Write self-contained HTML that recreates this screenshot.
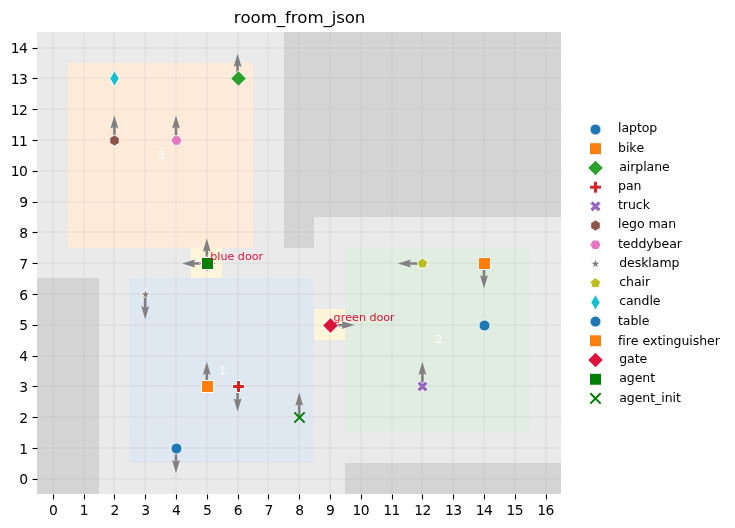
<!DOCTYPE html>
<html lang="en"><head><meta charset="utf-8"><title>room_from_json</title>
<style>html,body{margin:0;padding:0;background:#fff}body{width:735px;height:528px;overflow:hidden}svg{display:block;will-change:transform}text{font-family:"DejaVu Sans","Liberation Sans",sans-serif;fill:#000;font-variant-ligatures:none;font-kerning:none}.tk{font-size:13.89px}.lg{font-size:12.5px;letter-spacing:-0.05px}.ttl{font-size:16.67px;letter-spacing:-0.14px}.dr{font-size:11.11px;fill:#dc143c}.rm{font-size:11.11px;fill:#fff;fill-opacity:.88}</style></head><body>
<svg width="735" height="528" viewBox="0 0 735 528">
<rect width="735" height="528" fill="#fff"/>
<g id="patches" shape-rendering="crispEdges">
<rect x="37" y="32" width="524" height="462" fill="#eaeaea"/>
<rect x="37" y="278" width="62" height="216" fill="#d4d4d4"/>
<rect x="284" y="32" width="277" height="185" fill="#d4d4d4"/>
<rect x="284" y="217" width="30" height="31" fill="#d4d4d4"/>
<rect x="345" y="463" width="216" height="31" fill="#d4d4d4"/>
<rect x="129" y="278" width="185" height="185" fill="#dfe7f0"/>
<rect x="345" y="248" width="185" height="184" fill="#e0ede0"/>
<rect x="68" y="63" width="185" height="185" fill="#fdebd9"/>
<rect x="191" y="248" width="31" height="30" fill="#fff5da"/>
<rect x="314" y="309" width="31" height="31" fill="#fff5da"/>
</g>
<g id="grid" stroke="rgba(176,176,176,0.11)" stroke-width="2" shape-rendering="crispEdges">
<line x1="53" y1="32" x2="53" y2="494"/>
<line x1="84" y1="32" x2="84" y2="494"/>
<line x1="114" y1="32" x2="114" y2="494"/>
<line x1="145" y1="32" x2="145" y2="494"/>
<line x1="176" y1="32" x2="176" y2="494"/>
<line x1="207" y1="32" x2="207" y2="494"/>
<line x1="238" y1="32" x2="238" y2="494"/>
<line x1="268" y1="32" x2="268" y2="494"/>
<line x1="299" y1="32" x2="299" y2="494"/>
<line x1="330" y1="32" x2="330" y2="494"/>
<line x1="361" y1="32" x2="361" y2="494"/>
<line x1="392" y1="32" x2="392" y2="494"/>
<line x1="422" y1="32" x2="422" y2="494"/>
<line x1="453" y1="32" x2="453" y2="494"/>
<line x1="484" y1="32" x2="484" y2="494"/>
<line x1="515" y1="32" x2="515" y2="494"/>
<line x1="546" y1="32" x2="546" y2="494"/>
<line x1="37" y1="479" x2="561" y2="479"/>
<line x1="37" y1="448" x2="561" y2="448"/>
<line x1="37" y1="417" x2="561" y2="417"/>
<line x1="37" y1="386" x2="561" y2="386"/>
<line x1="37" y1="356" x2="561" y2="356"/>
<line x1="37" y1="325" x2="561" y2="325"/>
<line x1="37" y1="294" x2="561" y2="294"/>
<line x1="37" y1="263" x2="561" y2="263"/>
<line x1="37" y1="232" x2="561" y2="232"/>
<line x1="37" y1="202" x2="561" y2="202"/>
<line x1="37" y1="171" x2="561" y2="171"/>
<line x1="37" y1="140" x2="561" y2="140"/>
<line x1="37" y1="109" x2="561" y2="109"/>
<line x1="37" y1="78" x2="561" y2="78"/>
<line x1="37" y1="48" x2="561" y2="48"/>
</g>
<g id="roomlabels" text-anchor="middle">
<text class="rm" x="222.5" y="374.3">1</text>
<text class="rm" x="438.7" y="342.5">2</text>
<text class="rm" x="161.5" y="158.7">3</text>
</g>
<g id="arrows">
<polygon points="177.31,448.3 177.31,461.41 179.93,460.1 176,473.2 172.07,460.1 174.69,461.41 174.69,448.3" fill="#808080"/>
<polygon points="208.11,386.7 208.11,373.59 210.73,374.9 206.8,361.8 202.87,374.9 205.49,373.59 205.49,386.7" fill="#808080"/>
<polygon points="238.91,78.7 238.91,65.59 241.53,66.9 237.6,53.8 233.67,66.9 236.29,65.59 236.29,78.7" fill="#808080"/>
<polygon points="238.91,386.7 238.91,399.81 241.53,398.5 237.6,411.6 233.67,398.5 236.29,399.81 236.29,386.7" fill="#808080"/>
<polygon points="423.71,386.7 423.71,373.59 426.33,374.9 422.4,361.8 418.47,374.9 421.09,373.59 421.09,386.7" fill="#808080"/>
<polygon points="115.71,140.3 115.71,127.19 118.33,128.5 114.4,115.4 110.47,128.5 113.09,127.19 113.09,140.3" fill="#808080"/>
<polygon points="177.31,140.3 177.31,127.19 179.93,128.5 176,115.4 172.07,128.5 174.69,127.19 174.69,140.3" fill="#808080"/>
<polygon points="146.51,294.3 146.51,307.41 149.13,306.1 145.2,319.2 141.27,306.1 143.89,307.41 143.89,294.3" fill="#808080"/>
<polygon points="422.4,264.81 409.59,264.81 410.9,267.43 397.8,263.5 410.9,259.57 409.59,262.19 422.4,262.19" fill="#808080"/>
<polygon points="485.31,263.5 485.31,276.61 487.93,275.3 484,288.4 480.07,275.3 482.69,276.61 482.69,263.5" fill="#808080"/>
<polygon points="208.11,263.5 208.11,250.39 210.73,251.7 206.8,238.6 202.87,251.7 205.49,250.39 205.49,263.5" fill="#808080"/>
<polygon points="330,326.41 342.81,326.41 341.5,329.03 354.6,325.1 341.5,321.17 342.81,323.79 330,323.79" fill="#808080"/>
<polygon points="206.8,264.81 193.99,264.81 195.3,267.43 182.2,263.5 195.3,259.57 193.99,262.19 206.8,262.19" fill="#808080"/>
<polygon points="300.51,417.5 300.51,404.39 303.13,405.7 299.2,392.6 295.27,405.7 297.89,404.39 297.89,417.5" fill="#808080"/>
</g>
<g id="markers">
<circle cx="176.5" cy="448.5" r="5.5" fill="#1f77b4" stroke="#fff" stroke-width="0.92"/>
<polygon points="201.5,392.5 213.5,392.5 213.5,380.5 201.5,380.5" fill="#ff7f0e" stroke="#fff" stroke-width="1.0" stroke-linejoin="miter"/>
<polygon points="238.5,86.28 246.28,78.5 238.5,70.72 230.72,78.5" fill="#2ca02c" stroke="#fff" stroke-width="0.92" stroke-linejoin="round"/>
<polygon points="236.5,392.5 240.5,392.5 240.5,388.5 244.5,388.5 244.5,384.5 240.5,384.5 240.5,380.5 236.5,380.5 236.5,384.5 232.5,384.5 232.5,388.5 236.5,388.5" fill="#d62728" stroke="#fff" stroke-width="1.0" stroke-linejoin="miter"/>
<polygon points="419.75,392 422.5,389.25 425.25,392 428,389.25 425.25,386.5 428,383.75 425.25,381 422.5,383.75 419.75,381 417,383.75 419.75,386.5 417,389.25" fill="#9467bd" stroke="#fff" stroke-width="0.92" stroke-linejoin="round"/>
<polygon points="114.5,135 109.74,137.75 109.74,143.25 114.5,146 119.26,143.25 119.26,137.75" fill="#8c564b" stroke="#fff" stroke-width="0.92" stroke-linejoin="round"/>
<polygon points="173.75,135.74 171,140.5 173.75,145.26 179.25,145.26 182,140.5 179.25,135.74" fill="#e377c2" stroke="#fff" stroke-width="0.92" stroke-linejoin="round"/>
<polygon points="145.5,289 144.26,292.8 140.27,292.8 143.5,295.15 142.27,298.95 145.5,296.6 148.73,298.95 147.5,295.15 150.73,292.8 146.74,292.8" fill="#7f7f7f" stroke="#fff" stroke-width="0.92" stroke-linejoin="round"/>
<polygon points="422.5,258 417.27,261.8 419.27,267.95 425.73,267.95 427.73,261.8" fill="#bcbd22" stroke="#fff" stroke-width="0.92" stroke-linejoin="round"/>
<polygon points="114.5,86.28 119.17,78.5 114.5,70.72 109.83,78.5" fill="#17becf" stroke="#fff" stroke-width="0.92" stroke-linejoin="round"/>
<circle cx="484.5" cy="325.5" r="5.5" fill="#1f77b4" stroke="#fff" stroke-width="0.92"/>
<polygon points="478.5,269.5 490.5,269.5 490.5,257.5 478.5,257.5" fill="#ff7f0e" stroke="#fff" stroke-width="1.0" stroke-linejoin="miter"/>
<polygon points="207.5,271.28 215.28,263.5 207.5,255.72 199.72,263.5" fill="#dc143c" stroke="#fff" stroke-width="0.92" stroke-linejoin="round"/>
<polygon points="330.5,333.28 338.28,325.5 330.5,317.72 322.72,325.5" fill="#dc143c" stroke="#fff" stroke-width="0.92" stroke-linejoin="round"/>
<polygon points="201.5,269.5 213.5,269.5 213.5,257.5 201.5,257.5" fill="#008000" stroke="#fff" stroke-width="1.0" stroke-linejoin="miter"/>
<path d="M294.35 412.35L304.65 422.65M294.35 422.65L304.65 412.35" stroke="#008000" stroke-width="2.0" fill="none"/>
</g>
<text class="dr" x="210.3" y="259.7">blue door</text>
<text class="dr" x="333.6" y="320.8">green door</text>
<g id="ticks" stroke="#000" stroke-width="1.11">
<line x1="53.5" y1="494.5" x2="53.5" y2="499.4"/>
<line x1="84.5" y1="494.5" x2="84.5" y2="499.4"/>
<line x1="114.5" y1="494.5" x2="114.5" y2="499.4"/>
<line x1="145.5" y1="494.5" x2="145.5" y2="499.4"/>
<line x1="176.5" y1="494.5" x2="176.5" y2="499.4"/>
<line x1="207.5" y1="494.5" x2="207.5" y2="499.4"/>
<line x1="238.5" y1="494.5" x2="238.5" y2="499.4"/>
<line x1="268.5" y1="494.5" x2="268.5" y2="499.4"/>
<line x1="299.5" y1="494.5" x2="299.5" y2="499.4"/>
<line x1="330.5" y1="494.5" x2="330.5" y2="499.4"/>
<line x1="361.5" y1="494.5" x2="361.5" y2="499.4"/>
<line x1="392.5" y1="494.5" x2="392.5" y2="499.4"/>
<line x1="422.5" y1="494.5" x2="422.5" y2="499.4"/>
<line x1="453.5" y1="494.5" x2="453.5" y2="499.4"/>
<line x1="484.5" y1="494.5" x2="484.5" y2="499.4"/>
<line x1="515.5" y1="494.5" x2="515.5" y2="499.4"/>
<line x1="546.5" y1="494.5" x2="546.5" y2="499.4"/>
<line x1="32.6" y1="479.5" x2="37.5" y2="479.5"/>
<line x1="32.6" y1="448.5" x2="37.5" y2="448.5"/>
<line x1="32.6" y1="417.5" x2="37.5" y2="417.5"/>
<line x1="32.6" y1="386.5" x2="37.5" y2="386.5"/>
<line x1="32.6" y1="356.5" x2="37.5" y2="356.5"/>
<line x1="32.6" y1="325.5" x2="37.5" y2="325.5"/>
<line x1="32.6" y1="294.5" x2="37.5" y2="294.5"/>
<line x1="32.6" y1="263.5" x2="37.5" y2="263.5"/>
<line x1="32.6" y1="232.5" x2="37.5" y2="232.5"/>
<line x1="32.6" y1="202.5" x2="37.5" y2="202.5"/>
<line x1="32.6" y1="171.5" x2="37.5" y2="171.5"/>
<line x1="32.6" y1="140.5" x2="37.5" y2="140.5"/>
<line x1="32.6" y1="109.5" x2="37.5" y2="109.5"/>
<line x1="32.6" y1="78.5" x2="37.5" y2="78.5"/>
<line x1="32.6" y1="48.5" x2="37.5" y2="48.5"/>
</g>
<g id="xticklabels" text-anchor="middle">
<text class="tk" x="53.3" y="514.5">0</text>
<text class="tk" x="84.1" y="514.5">1</text>
<text class="tk" x="114.9" y="514.5">2</text>
<text class="tk" x="145.7" y="514.5">3</text>
<text class="tk" x="176.5" y="514.5">4</text>
<text class="tk" x="207.3" y="514.5">5</text>
<text class="tk" x="238.1" y="514.5">6</text>
<text class="tk" x="268.9" y="514.5">7</text>
<text class="tk" x="299.7" y="514.5">8</text>
<text class="tk" x="330.5" y="514.5">9</text>
<text class="tk" letter-spacing="-0.6" x="360.8" y="514.5">10</text>
<text class="tk" letter-spacing="-0.6" x="391.6" y="514.5">11</text>
<text class="tk" letter-spacing="-0.6" x="422.4" y="514.5">12</text>
<text class="tk" letter-spacing="-0.6" x="453.2" y="514.5">13</text>
<text class="tk" letter-spacing="-0.6" x="484" y="514.5">14</text>
<text class="tk" letter-spacing="-0.6" x="514.8" y="514.5">15</text>
<text class="tk" letter-spacing="-0.6" x="545.6" y="514.5">16</text>
</g><g id="yticklabels" text-anchor="end">
<text class="tk" x="28.0" y="484">0</text>
<text class="tk" x="28.0" y="454">1</text>
<text class="tk" x="28.0" y="423">2</text>
<text class="tk" x="28.0" y="392">3</text>
<text class="tk" x="28.0" y="361">4</text>
<text class="tk" x="28.0" y="330">5</text>
<text class="tk" x="28.0" y="300">6</text>
<text class="tk" x="28.0" y="269">7</text>
<text class="tk" x="28.0" y="238">8</text>
<text class="tk" x="28.0" y="207">9</text>
<text class="tk" letter-spacing="-0.5" x="27.4" y="176">10</text>
<text class="tk" letter-spacing="-0.5" x="27.4" y="146">11</text>
<text class="tk" letter-spacing="-0.5" x="27.4" y="115">12</text>
<text class="tk" letter-spacing="-0.5" x="27.4" y="84">13</text>
<text class="tk" letter-spacing="-0.5" x="27.4" y="53">14</text>
</g>
<text class="ttl" text-anchor="middle" x="299.5" y="23.2">room_from_json</text>
<g id="legend">
<circle cx="595.5" cy="129.5" r="5.5" fill="#1f77b4" stroke="#fff" stroke-width="0.92"/>
<text class="lg" x="618" y="132.3">laptop</text>
<polygon points="589.5,154.71 601.5,154.71 601.5,142.71 589.5,142.71" fill="#ff7f0e" stroke="#fff" stroke-width="1.0" stroke-linejoin="miter"/>
<text class="lg" x="618" y="151.51">bike</text>
<polygon points="595.5,175.7 603.28,167.92 595.5,160.14 587.72,167.92" fill="#2ca02c" stroke="#fff" stroke-width="0.92" stroke-linejoin="round"/>
<text class="lg" x="619.2" y="170.72">airplane</text>
<polygon points="593.5,193.13 597.5,193.13 597.5,189.13 601.5,189.13 601.5,185.13 597.5,185.13 597.5,181.13 593.5,181.13 593.5,185.13 589.5,185.13 589.5,189.13 593.5,189.13" fill="#d62728" stroke="#fff" stroke-width="1.0" stroke-linejoin="miter"/>
<text class="lg" x="618" y="189.93">pan</text>
<polygon points="592.75,211.84 595.5,209.09 598.25,211.84 601,209.09 598.25,206.34 601,203.59 598.25,200.84 595.5,203.59 592.75,200.84 590,203.59 592.75,206.34 590,209.09" fill="#9467bd" stroke="#fff" stroke-width="0.92" stroke-linejoin="round"/>
<text class="lg" x="618" y="209.14">truck</text>
<polygon points="595.5,220.05 590.74,222.8 590.74,228.3 595.5,231.05 600.26,228.3 600.26,222.8" fill="#8c564b" stroke="#fff" stroke-width="0.92" stroke-linejoin="round"/>
<text class="lg" x="618" y="228.35">lego man</text>
<polygon points="592.75,240 590,244.76 592.75,249.52 598.25,249.52 601,244.76 598.25,240" fill="#e377c2" stroke="#fff" stroke-width="0.92" stroke-linejoin="round"/>
<text class="lg" x="618" y="247.56">teddybear</text>
<polygon points="595.5,258.47 594.26,262.27 590.27,262.27 593.5,264.62 592.27,268.42 595.5,266.07 598.73,268.42 597.5,264.62 600.73,262.27 596.74,262.27" fill="#7f7f7f" stroke="#fff" stroke-width="0.92" stroke-linejoin="round"/>
<text class="lg" x="619.2" y="266.77">desklamp</text>
<polygon points="595.5,277.68 590.27,281.48 592.27,287.63 598.73,287.63 600.73,281.48" fill="#bcbd22" stroke="#fff" stroke-width="0.92" stroke-linejoin="round"/>
<text class="lg" x="619.2" y="285.98">chair</text>
<polygon points="595.5,310.17 600.17,302.39 595.5,294.61 590.83,302.39" fill="#17becf" stroke="#fff" stroke-width="0.92" stroke-linejoin="round"/>
<text class="lg" x="619.2" y="305.19">candle</text>
<circle cx="595.5" cy="321.6" r="5.5" fill="#1f77b4" stroke="#fff" stroke-width="0.92"/>
<text class="lg" x="618" y="325.2">table</text>
<polygon points="589.5,346.81 601.5,346.81 601.5,334.81 589.5,334.81" fill="#ff7f0e" stroke="#fff" stroke-width="1.0" stroke-linejoin="miter"/>
<text class="lg" x="618" y="344.61">fire extinguisher</text>
<polygon points="595.5,367.8 603.28,360.02 595.5,352.24 587.72,360.02" fill="#dc143c" stroke="#fff" stroke-width="0.92" stroke-linejoin="round"/>
<text class="lg" x="619.2" y="362.92">gate</text>
<polygon points="589.5,385.23 601.5,385.23 601.5,373.23 589.5,373.23" fill="#008000" stroke="#fff" stroke-width="1.0" stroke-linejoin="miter"/>
<text class="lg" x="619.2" y="382.13">agent</text>
<path d="M590.35 393.29L600.65 403.59M590.35 403.59L600.65 393.29" stroke="#008000" stroke-width="2.0" fill="none"/>
<text class="lg" x="619.2" y="402.04">agent_init</text>
</g>
</svg></body></html>
